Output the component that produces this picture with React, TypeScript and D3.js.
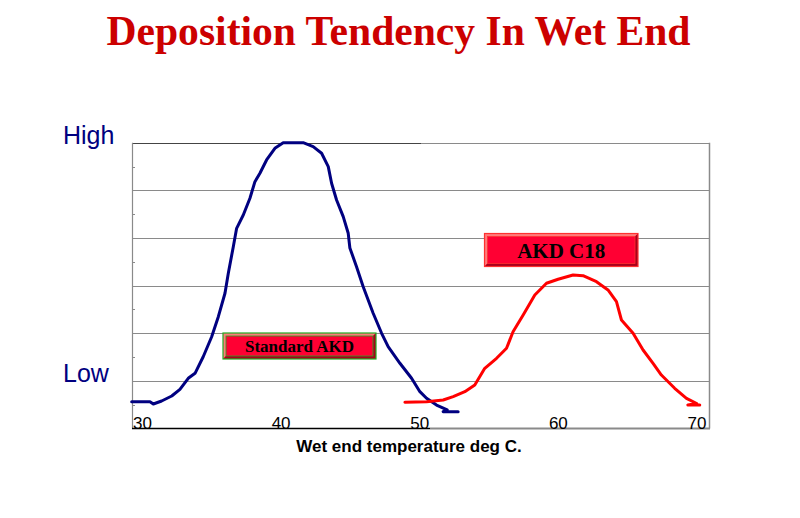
import React from "react";
import * as d3 from "d3";

// ---- Data ----
const title = "Deposition Tendency In Wet End";
const xAxisTitle = "Wet end temperature deg C.";
const xTickValues = [30, 40, 50, 60, 70];
const yLabels = [
  { label: "High", value: 6 },
  { label: "Low", value: 1 },
];
const gridValues = [1, 2, 3, 4, 5, 6];
const minorTickValues = [0.5, 1.5, 2.5, 3.5, 4.5, 5.5];

// Standard AKD curve: [temperature, relative deposition]
const standardTemp = [
  29.22, 30.54, 30.78, 31.38, 32.11, 32.7, 33.3, 33.79, 34.38, 34.99, 35.47, 35.95,
  36.19, 36.55, 36.79, 37.27, 37.75, 38.11, 38.47, 38.95, 39.55, 40.15, 41.59,
  42.31, 42.92, 43.4, 43.64, 44.0, 44.48, 44.84, 44.96, 45.44, 45.92, 46.64, 47.25,
  47.72, 48.57, 49.41, 50.01, 50.49, 51.21, 51.98, 51.69, 52.77,
];
const standardValue = [
  0.563, 0.563, 0.514, 0.577, 0.682, 0.823, 1.054, 1.159, 1.507, 1.927, 2.347, 2.839,
  3.258, 3.817, 4.203, 4.482, 4.833, 5.182, 5.358, 5.637, 5.883, 6.0, 6.0,
  5.917, 5.778, 5.497, 5.148, 4.797, 4.447, 4.098, 3.79, 3.397, 2.977, 2.419, 1.999,
  1.717, 1.369, 1.054, 0.773, 0.634, 0.493, 0.39, 0.353, 0.353,
];

// AKD C18 curve
const c18Temp = [
  48.93, 50.49, 51.69, 52.41, 53.25, 53.97, 54.69, 55.54, 56.26, 56.73, 57.46, 58.3,
  59.14, 59.98, 61.06, 61.78, 62.75, 63.58, 64.19, 64.55, 65.39, 66.11, 66.83, 67.43,
  68.39, 69.24, 69.98, 69.34, 70.2,
];
const c18Value = [
  0.55, 0.563, 0.598, 0.668, 0.773, 0.913, 1.264, 1.474, 1.684, 2.032, 2.383, 2.803,
  3.049, 3.133, 3.223, 3.208, 3.082, 2.908, 2.662, 2.278, 1.999, 1.648, 1.369, 1.123,
  0.844, 0.634, 0.525, 0.493, 0.493,
];

const seriesNames = ["Standard AKD", "AKD C18"];

const W = 800;
const H = 518;
const plotLeft = 132;
const plotRight = 709;
const plotTop = 142.7;
const plotBottom = 428.5;

function LabelBox({
  x, y, w, h, text, fontSize, border,
}: { x: number; y: number; w: number; h: number; text: string; fontSize: number; border: string }) {
  const b = 3;
  return (
    <g>
      <rect x={x} y={y} width={w} height={h} fill="#ff0033" />
      <polygon
        points={`${x},${y} ${x + w},${y} ${x + w - b},${y + b} ${x + b},${y + b} ${x + b},${y + h - b} ${x},${y + h}`}
        fill="#ff7a7a"
      />
      <polygon
        points={`${x + w},${y} ${x + w},${y + h} ${x},${y + h} ${x + b},${y + h - b} ${x + w - b},${y + h - b} ${x + w - b},${y + b}`}
        fill="#a8001c"
      />
      <rect x={x} y={y} width={w} height={h} fill="none" stroke={border} strokeWidth={1.2} />
      <rect x={x + b} y={y + b} width={w - 2 * b} height={h - 2 * b} fill="none" stroke={border} strokeWidth={0.8} />
      <text
        x={x + w / 2}
        y={y + h / 2}
        dy="0.36em"
        textAnchor="middle"
        fontFamily="'Liberation Serif', 'Times New Roman', serif"
        fontWeight="bold"
        fontSize={fontSize}
        fill="#000"
      >
        {text}
      </text>
    </g>
  );
}

export default function App() {
  const x = d3.scaleLinear().domain([30, 70]).range([142.5, 697]);
  const y = d3.scaleLinear().domain([0, 6]).range([plotBottom, plotTop]);

  const line = d3
    .line<[number, number]>()
    .x((d) => x(d[0]))
    .y((d) => y(d[1]))
    .curve(d3.curveLinear);

  const stdData = standardTemp.map((t, i) => [t, standardValue[i]] as [number, number]);
  const c18Data = c18Temp.map((t, i) => [t, c18Value[i]] as [number, number]);

  const splitX = 430;

  return (
    <svg
      width={W}
      height={H}
      style={{ position: "absolute", left: 0, top: 0, background: "#fff" }}
    >
      <rect x={0} y={0} width={W} height={H} fill="#fff" />
      <text
        x={398.5}
        y={44.5}
        textAnchor="middle"
        fontFamily="'Liberation Serif', 'Times New Roman', serif"
        fontWeight="bold"
        fontSize={41.6}
        fill="#cc0000"
      >
        {title}
      </text>

      {gridValues.map((v) => (
        <line
          key={v}
          x1={plotLeft}
          x2={plotRight}
          y1={Math.round(y(v)) + 0.5}
          y2={Math.round(y(v)) + 0.5}
          stroke="#8a8a8a"
          strokeWidth={1}
        />
      ))}
      <line x1={plotLeft} x2={421} y1={Math.round(plotTop) + 0.5} y2={Math.round(plotTop) + 0.5} stroke="#444" strokeWidth={1} />

      <line x1={plotLeft + 0.5} x2={plotLeft + 0.5} y1={plotTop} y2={plotBottom} stroke="#8a8a8a" strokeWidth={1.2} />
      {minorTickValues.map((v) => (
        <line
          key={v}
          x1={plotLeft}
          x2={plotLeft + 3}
          y1={Math.round(y(v)) + 0.5}
          y2={Math.round(y(v)) + 0.5}
          stroke="#8a8a8a"
          strokeWidth={1}
        />
      ))}
      <line x1={plotRight + 0.5} x2={plotRight + 0.5} y1={plotTop} y2={plotBottom} stroke="#8a8a8a" strokeWidth={1.5} />

      <line x1={plotLeft} x2={splitX} y1={plotBottom} y2={plotBottom} stroke="#000" strokeWidth={1.3} />
      <line x1={splitX} x2={plotRight + 1} y1={plotBottom} y2={plotBottom} stroke="#8a8a8a" strokeWidth={2} />

      {xTickValues.map((t) => (
        <text
          key={t}
          x={x(t)}
          y={429}
          textAnchor="middle"
          fontFamily="'Liberation Sans', Arial, sans-serif"
          fontSize={17}
          fill="#000"
        >
          {t}
        </text>
      ))}

      {yLabels.map((l) => (
        <text
          key={l.label}
          x={63}
          y={y(l.value) + 1.5}
          fontFamily="'Liberation Sans', Arial, sans-serif"
          fontSize={25}
          fill="#000080"
        >
          {l.label}
        </text>
      ))}

      <text
        x={409}
        y={452}
        textAnchor="middle"
        fontFamily="'Liberation Sans', Arial, sans-serif"
        fontWeight="bold"
        fontSize={17}
        fill="#000"
      >
        {xAxisTitle}
      </text>

      <path d={line(stdData) || ""} fill="none" stroke="#000080" strokeWidth={3} strokeLinejoin="round" strokeLinecap="round" />
      <path d={line(c18Data) || ""} fill="none" stroke="#ff0000" strokeWidth={3} strokeLinejoin="round" strokeLinecap="round" />

      <LabelBox x={223} y={333} w={153} h={26} text={seriesNames[0]} fontSize={17} border="#22aa22" />
      <LabelBox x={484.5} y={233.5} w={153.5} h={33} text={seriesNames[1]} fontSize={21} border="#ff3030" />
    </svg>
  );
}
